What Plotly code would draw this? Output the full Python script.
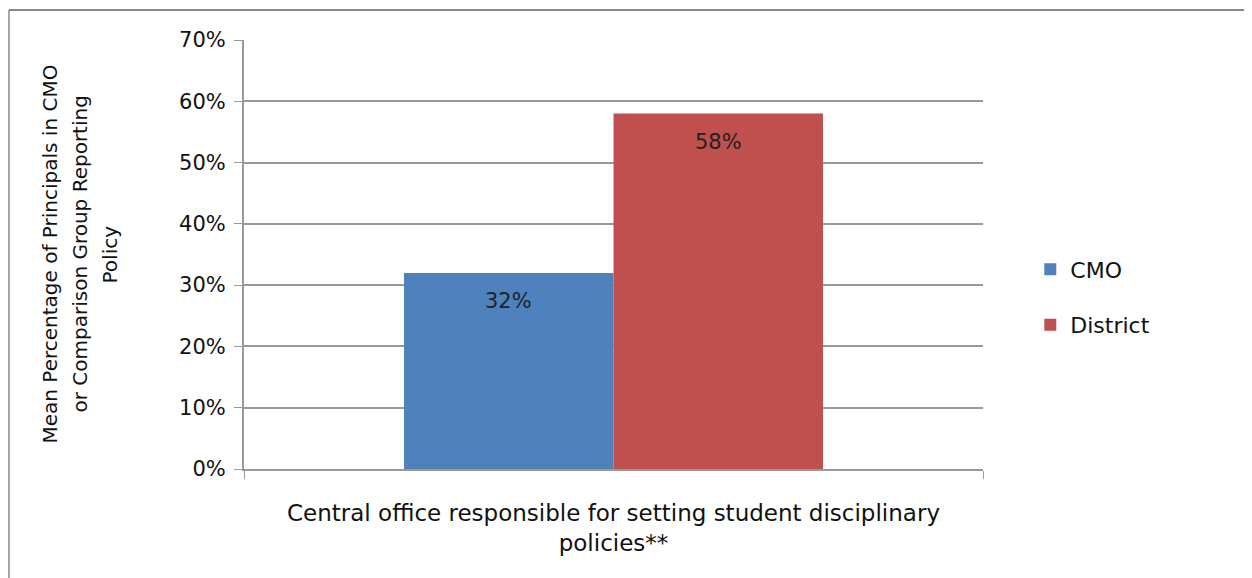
import plotly.graph_objects as go

categories = ["Central office responsible for setting student disciplinary<br>policies**"]
series_names = ["CMO", "District"]
cmo_values = [0.32]
district_values = [0.58]
colors = ["#4F81BD", "#C0504D"]
y_ticks = [0, 0.1, 0.2, 0.3, 0.4, 0.5, 0.6, 0.7]
y_title_lines = ["Mean Percentage of Principals in CMO",
                 "or Comparison Group Reporting",
                 "Policy"]

FONT = "DejaVu Sans, Verdana, sans-serif"
PLOT_W = 739
BARGAP = 0.433

fig = go.Figure()
all_vals = [cmo_values, district_values]
for name, vals, col in zip(series_names, all_vals, colors):
    fig.add_trace(go.Bar(
        x=categories, y=vals, name=name, marker_color=col,
        marker_line_width=0,
        legendgroup=name,
    ))

# value labels, placed just inside the top of each bar
bar_w = PLOT_W * (1 - BARGAP) / len(series_names)
annotations = []
for i, vals in enumerate(all_vals):
    offset = (i - (len(series_names) - 1) / 2) * bar_w
    for cat, v in zip(categories, vals):
        annotations.append(dict(
            x=cat, y=v, xref="x", yref="y", text=f"{v:.0%}", showarrow=False,
            xshift=offset, yshift=-14, yanchor="top",
            font=dict(family=FONT, size=21, color="#222222"),
        ))

# y axis title as three rotated lines
for j, (line, xpix) in enumerate(zip(y_title_lines, [41, 71, 101])):
    annotations.append(dict(
        x=(xpix - 236) / PLOT_W, y=0.5, xref="paper", yref="paper",
        text=line, textangle=-90, showarrow=False,
        xanchor="center", yanchor="middle",
        font=dict(family=FONT, size=20, color="#111111"),
    ))

fig.update_layout(
    width=1244, height=570,
    margin=dict(l=236, r=269, t=32, b=109),
    paper_bgcolor="white", plot_bgcolor="white",
    barmode="group", bargap=BARGAP, bargroupgap=0,
    font=dict(family=FONT, size=20, color="#111111"),
    legend=dict(x=1.064, y=0.40, xanchor="left", yanchor="middle",
                font=dict(family=FONT, size=22, color="#111111"),
                traceorder="grouped", tracegroupgap=24, itemwidth=30),
    xaxis=dict(
        showline=True, linecolor="#999999", linewidth=2,
        ticks="outside", tickson="boundaries", ticklen=8, tickcolor="#999999",
        tickfont=dict(family=FONT, size=23, color="#111111"),
        ticklabelstandoff=22,
        showgrid=False,
    ),
    yaxis=dict(
        range=[0, 0.7], tickvals=y_ticks, tickformat=".0%",
        showline=True, linecolor="#999999", linewidth=2,
        ticks="outside", ticklen=8, tickcolor="#999999",
        showgrid=True, gridcolor="#999999", gridwidth=2,
        zeroline=False, ticklabelstandoff=4,
        tickfont=dict(family=FONT, size=21, color="#111111"),
    ),
    annotations=annotations,
    shapes=[
        dict(type="line", xref="paper", yref="paper",
             x0=-235/PLOT_W, x1=1.5, y0=459/429, y1=459/429,
             line=dict(color="#888888", width=2)),
        dict(type="line", xref="paper", yref="paper",
             x0=-235/PLOT_W, x1=-235/PLOT_W, y0=459/429, y1=-1,
             line=dict(color="#888888", width=1.5)),
    ],
)

fig.write_html("out.html")
